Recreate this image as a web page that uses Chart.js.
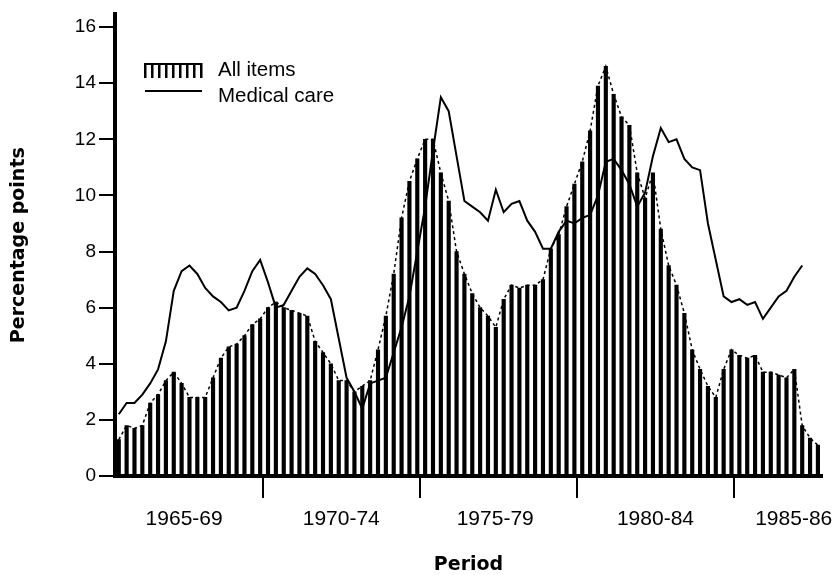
<!DOCTYPE html>
<html>
<head>
<meta charset="utf-8">
<title>All items and medical care</title>
<script src="https://cdn.jsdelivr.net/npm/chart.js@4.4.1/dist/chart.umd.min.js"></script>
<style>
  html, body { margin: 0; padding: 0; background: #fff; }
  canvas { display: block; }
</style>
</head>
<body>
<canvas id="chart" width="836" height="575"></canvas>
<script>
// Quarterly changes in percentage points
const allItems = [
  1.3, 1.8, 1.7, 1.8, 2.6, 2.9, 3.4, 3.7, 3.3, 2.8,
  2.8, 2.8, 3.5, 4.2, 4.6, 4.7, 5.0, 5.4, 5.6, 6.0,
  6.2, 6.0, 5.9, 5.8, 5.7, 4.8, 4.4, 4.0, 3.4, 3.4,
  3.0, 3.2, 3.4, 4.5, 5.7, 7.2, 9.2, 10.5, 11.3, 12.0,
  12.0, 10.8, 9.8, 8.0, 7.2, 6.5, 6.0, 5.7, 5.3, 6.3,
  6.8, 6.7, 6.8, 6.8, 7.0, 8.1, 8.6, 9.6, 10.4, 11.2,
  12.3, 13.9, 14.6, 13.6, 12.8, 12.5, 10.8, 9.9, 10.8, 8.8,
  7.5, 6.8, 5.8, 4.5, 3.8, 3.2, 2.8, 3.8, 4.5, 4.3,
  4.2, 4.3, 3.7, 3.7, 3.6, 3.5, 3.8, 1.8, 1.35, 1.1
];
const medicalCare = [
  2.2, 2.6, 2.6, 2.9, 3.3, 3.8, 4.8, 6.6, 7.3, 7.5,
  7.2, 6.7, 6.4, 6.2, 5.9, 6.0, 6.6, 7.3, 7.7, 6.9,
  6.0, 6.1, 6.6, 7.1, 7.4, 7.2, 6.8, 6.3, 4.9, 3.5,
  3.0, 2.4, 3.3, 3.4, 3.5, 4.4, 5.3, 6.4, 8.0, 9.6,
  11.6, 13.5, 13.0, 11.4, 9.8, 9.6, 9.4, 9.1, 10.2, 9.4,
  9.7, 9.8, 9.1, 8.7, 8.1, 8.1, 8.7, 9.1, 9.0, 9.2,
  9.3, 10.0, 11.2, 11.3, 10.9, 10.4, 9.6, 10.1, 11.4, 12.4,
  11.9, 12.0, 11.3, 11.0, 10.9, 9.0, 7.7, 6.4, 6.2, 6.3,
  6.1, 6.2, 5.6, 6.0, 6.4, 6.6, 7.1, 7.5, null, null
];

// time of each quarter (in years)
const firstQuarter = 1965.42;
const quarterTimes = allItems.map((v, i) => firstQuarter + i * 0.25);

const periodBreaks = [1970, 1975, 1980, 1985];
const periodLabels = ["1965-69", "1970-74", "1975-79", "1980-84", "1985-86"];
const periodLabelAt = [1967.5, 1972.5, 1977.4, 1982.5, 1986.9];
const yTicks = [0, 2, 4, 6, 8, 10, 12, 14, 16];

const asPoints = (vals) => vals.map((v, i) => ({ x: quarterTimes[i], y: v }));

const yTickFont = { family: "'Liberation Sans', Arial, sans-serif", size: 19 };
const xTickFont = { family: "'Liberation Sans', Arial, sans-serif", size: 21 };
const titleFont = { family: "'DejaVu Sans', sans-serif", size: 19, weight: "bold", lineHeight: 1 };

// legend drawn inside the plot, top left
const legendBox = {
  id: "legendBox",
  afterDatasetsDraw(chart) {
    const ctx = chart.ctx;
    ctx.save();
    ctx.fillStyle = "#000";
    ctx.strokeStyle = "#000";
    // little bar swatch
    ctx.fillRect(144, 63, 58, 2);
    for (let x = 144; x <= 200; x += 7) {
      ctx.fillRect(x, 63, 2.5, 15);
    }
    // line swatch
    ctx.lineWidth = 2;
    ctx.beginPath();
    ctx.moveTo(145, 91);
    ctx.lineTo(202, 91);
    ctx.stroke();
    ctx.font = "20.5px 'Liberation Sans', Arial, sans-serif";
    ctx.textBaseline = "middle";
    ctx.fillText("All items", 218, 70);
    ctx.fillText("Medical care", 218, 96);
    ctx.restore();
  }
};

const chart = new Chart(document.getElementById("chart"), {
  type: "bar",
  data: {
    datasets: [
      {
        type: "line",
        label: "Medical care",
        data: asPoints(medicalCare),
        borderColor: "#000",
        borderWidth: 2,
        pointRadius: 0,
        tension: 0,
        order: 0
      },
      {
        type: "line",
        label: "All items (outline)",
        data: asPoints(allItems),
        borderColor: "#000",
        borderWidth: 1.5,
        borderDash: [3, 3],
        pointRadius: 0,
        tension: 0,
        order: 1
      },
      {
        type: "bar",
        label: "All items",
        data: asPoints(allItems),
        backgroundColor: "#000",
        barThickness: 3.5,
        order: 2
      }
    ]
  },
  options: {
    responsive: false,
    animation: false,
    layout: { padding: { left: 10, right: 14, top: 14, bottom: 0 } },
    plugins: {
      legend: { display: false },
      tooltip: { enabled: false }
    },
    scales: {
      x: {
        type: "linear",
        min: 1965.3,
        max: 1987.8,
        offset: false,
        afterFit: (scale) => {
          scale.height = 99;
          // let the last label run to the page edge like the print
          scale.paddingLeft = 0;
          scale.paddingRight = 0;
        },
        afterBuildTicks: (scale) => {
          scale.ticks = periodBreaks.concat(periodLabelAt)
            .sort((a, b) => a - b)
            .map((v) => ({ value: v }));
        },
        grid: {
          offset: false,
          drawOnChartArea: false,
          drawTicks: true,
          tickLength: 22,
          lineWidth: 2,
          color: (ctx) => (ctx.tick && periodBreaks.includes(ctx.tick.value)) ? "#000" : "rgba(0,0,0,0)"
        },
        border: { display: true, color: "#000", width: 4 },
        ticks: {
          autoSkip: false,
          maxRotation: 0,
          minRotation: 0,
          padding: 9,
          color: "#000",
          font: xTickFont,
          callback: (value) => {
            const k = periodLabelAt.indexOf(value);
            return k >= 0 ? periodLabels[k] : "";
          }
        },
        title: {
          display: true,
          text: "Period",
          color: "#000",
          font: titleFont,
          padding: 0
        }
      },
      y: {
        min: 0,
        max: 16.45,
        afterFit: (scale) => { scale.width = 105; },
        afterBuildTicks: (scale) => {
          scale.ticks = yTicks.map((v) => ({ value: v }));
        },
        grid: {
          drawOnChartArea: false,
          drawTicks: true,
          tickLength: 16,
          lineWidth: 2,
          color: "#000"
        },
        border: { display: true, color: "#000", width: 4 },
        ticks: {
          padding: 3,
          color: "#000",
          font: yTickFont
        },
        title: {
          display: true,
          text: "Percentage points",
          color: "#000",
          font: titleFont,
          padding: 0
        }
      }
    }
  },
  plugins: [legendBox]
});
</script>
</body>
</html>
